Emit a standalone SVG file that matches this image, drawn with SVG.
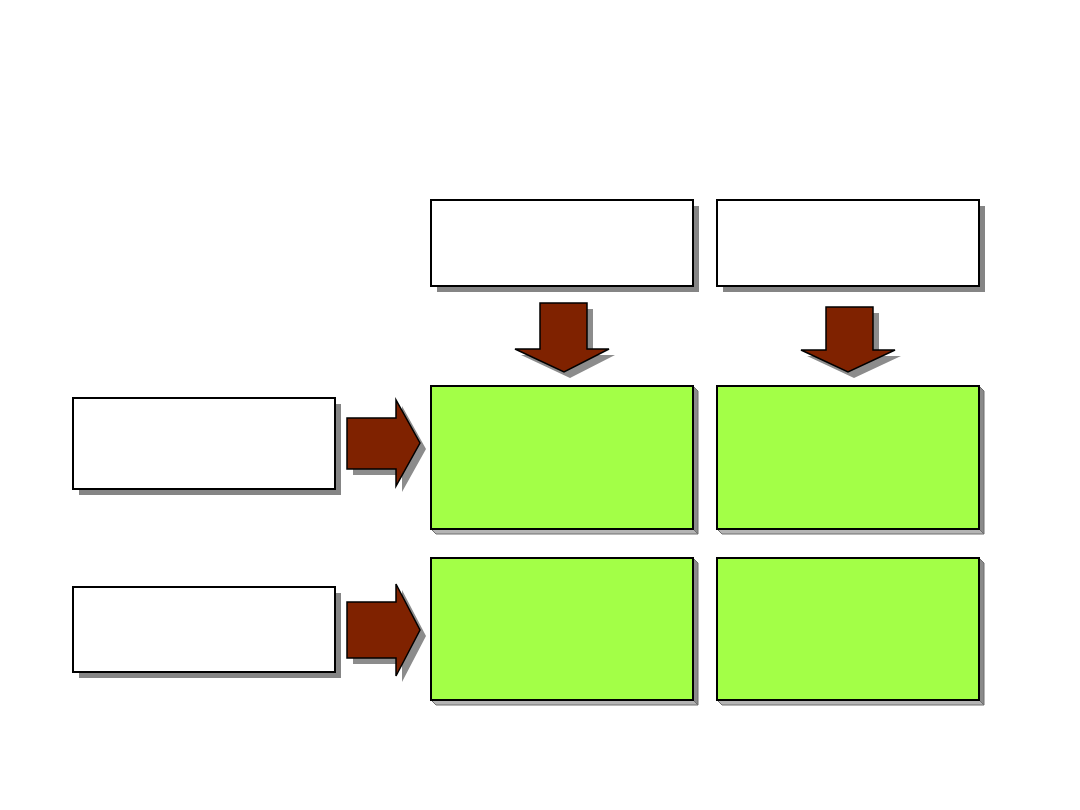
<svg xmlns="http://www.w3.org/2000/svg" width="1080" height="810" viewBox="0 0 1080 810">
<style>
.box{fill:#ffffff;stroke:#000;stroke-width:2}
.shadow{fill:#858585}
.green{fill:#a3ff47;stroke:#000;stroke-width:2}
.bot{fill:#b4b4b4;stroke:#6e6e6e;stroke-width:1}
.side{fill:#8a8a8a;stroke:#6e6e6e;stroke-width:1}
.arrow{fill:#7f2200;stroke:#000;stroke-width:1.5;stroke-linejoin:miter}
.ashadow{fill:#8c8c8c}
</style>
<rect width="1080" height="810" fill="#ffffff"/>
<g id="top-box-1">
<rect class="shadow" x="437" y="206" width="262" height="86"/>
<rect class="box" x="431" y="200" width="262" height="86"/>
</g>
<g id="top-box-2">
<rect class="shadow" x="723" y="206" width="262" height="86"/>
<rect class="box" x="717" y="200" width="262" height="86"/>
</g>
<g id="left-box-1">
<rect class="shadow" x="79" y="404" width="262" height="91"/>
<rect class="box" x="73" y="398" width="262" height="91"/>
</g>
<g id="left-box-2">
<rect class="shadow" x="79" y="593" width="262" height="85"/>
<rect class="box" x="73" y="587" width="262" height="85"/>
</g>
<g id="green-1">
<polygon class="bot" points="431,529 693,529 698,534 436,534"/>
<polygon class="side" points="693,386 698,391 698,534 693,529"/>
<rect class="green" x="431" y="386" width="262" height="143"/>
</g>
<g id="green-2">
<polygon class="bot" points="717,529 979,529 984,534 722,534"/>
<polygon class="side" points="979,386 984,391 984,534 979,529"/>
<rect class="green" x="717" y="386" width="262" height="143"/>
</g>
<g id="green-3">
<polygon class="bot" points="431,700 693,700 698,705 436,705"/>
<polygon class="side" points="693,558 698,563 698,705 693,700"/>
<rect class="green" x="431" y="558" width="262" height="142"/>
</g>
<g id="green-4">
<polygon class="bot" points="717,700 979,700 984,705 722,705"/>
<polygon class="side" points="979,558 984,563 984,705 979,700"/>
<rect class="green" x="717" y="558" width="262" height="142"/>
</g>
<g id="connectors">
<polygon class="ashadow" points="546,309 593,309 593,355 615,355 570,378 521,355 546,355"/>
<polygon class="arrow" points="540,303 587,303 587,349 609,349 564,372 515,349 540,349"/>
<polygon class="ashadow" points="832,313 879,313 879,356 901,356 854,378 807,356 832,356"/>
<polygon class="arrow" points="826,307 873,307 873,350 895,350 848,372 801,350 826,350"/>
<polygon class="ashadow" points="353,424 402,424 402,406 426,449 402,492 402,475 353,475"/>
<polygon class="arrow" points="347,418 396,418 396,400 420,443 396,486 396,469 347,469"/>
<polygon class="ashadow" points="353,608 402,608 402,590 426,636 402,682 402,664 353,664"/>
<polygon class="arrow" points="347,602 396,602 396,584 420,630 396,676 396,658 347,658"/>
</g>
</svg>
